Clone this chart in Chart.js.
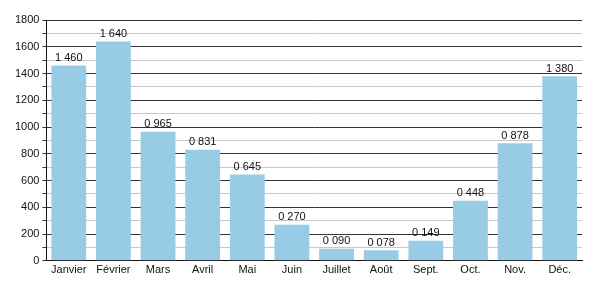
<!DOCTYPE html>
<html>
<head>
<meta charset="utf-8">
<script src="https://cdn.jsdelivr.net/npm/chart.js@4/dist/chart.umd.min.js"></script>
<style>
  html, body { margin: 0; padding: 0; background: #fff; }
  #wrap { width: 600px; height: 300px; }
</style>
</head>
<body>
<div id="wrap"><canvas id="chart"></canvas></div>
<script>
const months = ['Janvier', 'Février', 'Mars', 'Avril', 'Mai', 'Juin', 'Juillet', 'Août', 'Sept.', 'Oct.', 'Nov.', 'Déc.'];
const values = [1460, 1640, 965, 831, 645, 270, 90, 78, 149, 448, 878, 1380];
const valueLabels = ['1 460', '1 640', '0 965', '0 831', '0 645', '0 270', '0 090', '0 078', '0 149', '0 448', '0 878', '1 380'];

Chart.defaults.font.family = '"Liberation Sans", Arial, sans-serif';
Chart.defaults.font.size = 11;
Chart.defaults.color = '#111';

const barLabels = {
    id: 'barLabels',
    afterDatasetsDraw(chart) {
        const ctx = chart.ctx;
        const meta = chart.getDatasetMeta(0);
        ctx.save();
        ctx.font = '11px "Liberation Sans", Arial, sans-serif';
        ctx.fillStyle = '#111';
        ctx.textAlign = 'center';
        ctx.textBaseline = 'bottom';
        meta.data.forEach((bar, i) => {
            ctx.fillText(valueLabels[i], bar.x, bar.y - 2);
        });
        ctx.restore();
    }
};

new Chart(document.getElementById('chart').getContext('2d'), {
    type: 'bar',
    data: {
        labels: months,
        datasets: [{
            data: values,
            backgroundColor: '#98cbe6',
            barPercentage: 0.78,
            categoryPercentage: 1.0
        }]
    },
    options: {
        responsive: true,
        maintainAspectRatio: false,
        animation: false,
        layout: { padding: { top: 20, right: 18, bottom: 20, left: 12 } },
        plugins: { legend: { display: false }, tooltip: { enabled: false } },
        scales: {
            x: {
                grid: { display: false, drawTicks: false },
                border: { color: '#111', width: 1 },
                ticks: { padding: 3, maxRotation: 0, autoSkip: false }
            },
            y: {
                min: 0,
                max: 1800,
                grid: {
                    color: ctx => (ctx.tick && ctx.tick.value % 200 === 0) ? '#333' : '#c8c8c8',
                    tickColor: '#333',
                    tickLength: 4
                },
                border: { color: '#111', width: 1 },
                ticks: {
                    stepSize: 100,
                    maxTicksLimit: 20,
                    autoSkip: false,
                    padding: 3,
                    callback: v => (v % 200 === 0 ? String(v) : '')
                }
            }
        }
    },
    plugins: [barLabels]
});
</script>
</body>
</html>
